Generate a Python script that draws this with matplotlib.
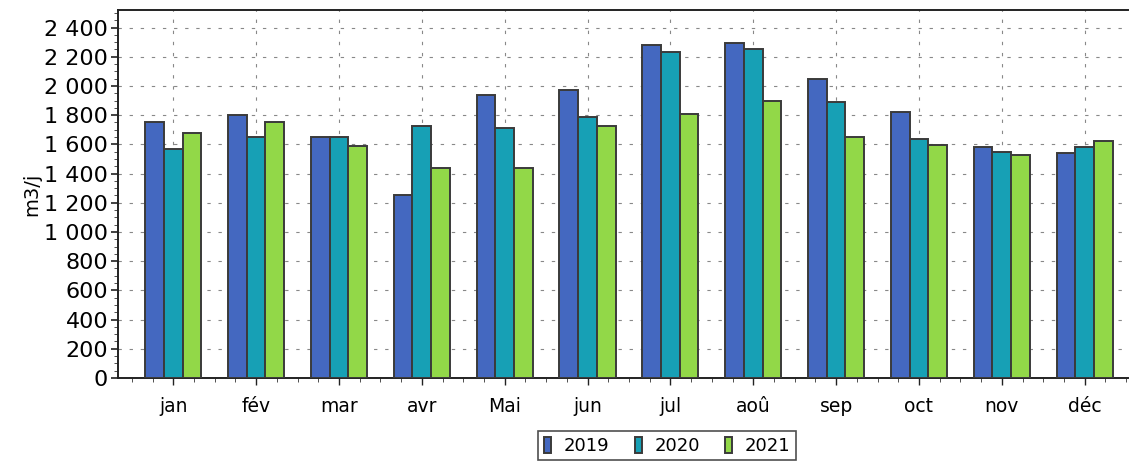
import numpy as np
import matplotlib
matplotlib.use("Agg")
import matplotlib.pyplot as plt
from matplotlib.ticker import FuncFormatter, MultipleLocator

months = ['jan', 'fév', 'mar', 'avr', 'Mai', 'jun', 'jul', 'aoû', 'sep', 'oct', 'nov', 'déc']
years = ['2019', '2020', '2021']
v2019 = [1750, 1800, 1650, 1250, 1940, 1970, 2280, 2295, 2050, 1825, 1580, 1540]
v2020 = [1565, 1650, 1650, 1725, 1710, 1790, 2230, 2255, 1890, 1635, 1545, 1585]
v2021 = [1680, 1750, 1590, 1440, 1440, 1725, 1810, 1900, 1650, 1595, 1530, 1625]
colors = ['#4468c0', '#17a0b5', '#92d848']

fig = plt.figure(figsize=(11.3, 4.68), dpi=100)
ax = fig.add_axes([0.1044, 0.1923, 0.8936, 0.7863])

x = np.arange(len(months))
w = 0.226
for i, (vals, c, lab) in enumerate(zip([v2019, v2020, v2021], colors, years)):
    ax.bar(x + (i - 1) * w, vals, width=w, color=c, edgecolor='#3a3a3a',
           linewidth=1.4, label=lab, zorder=3)

ax.set_xlim(-0.667, 11.52)
ax.set_ylim(0, 2520)
ax.set_xticks(x)
ax.set_xticklabels(months, fontsize=13.5)
ax.xaxis.set_minor_locator(MultipleLocator(0.25))
ax.yaxis.set_major_locator(MultipleLocator(200))
ax.yaxis.set_minor_locator(MultipleLocator(50))
ax.yaxis.set_major_formatter(FuncFormatter(lambda v, p: f"{int(v):,}".replace(',', ' ')))
ax.tick_params(axis='y', labelsize=16, length=5, width=1.2, color='#222222', pad=2)
ax.tick_params(axis='x', length=5, width=1.0, color='#222222', pad=9)
ax.tick_params(which='minor', length=3, color='#333333')
ax.set_ylabel('m3/j', fontsize=14, labelpad=2)

ax.grid(True, which='major', color='#888888', linestyle=(0, (3, 7)), linewidth=0.8, zorder=0)

for s in ['left', 'bottom', 'top']:
    ax.spines[s].set_color('#222222')
    ax.spines[s].set_linewidth(1.4)
ax.spines['right'].set_visible(False)

leg = ax.legend(loc='upper center', bbox_to_anchor=(0.544, -0.145), ncol=3, fontsize=13,
                frameon=True, fancybox=False, handlelength=0.4, handleheight=1.0,
                handletextpad=0.7, columnspacing=1.4, borderpad=0.3,
                borderaxespad=0.0)
leg.get_frame().set_edgecolor('#222222')
leg.get_frame().set_linewidth(1.2)

fig.savefig('out.png', dpi=100)
